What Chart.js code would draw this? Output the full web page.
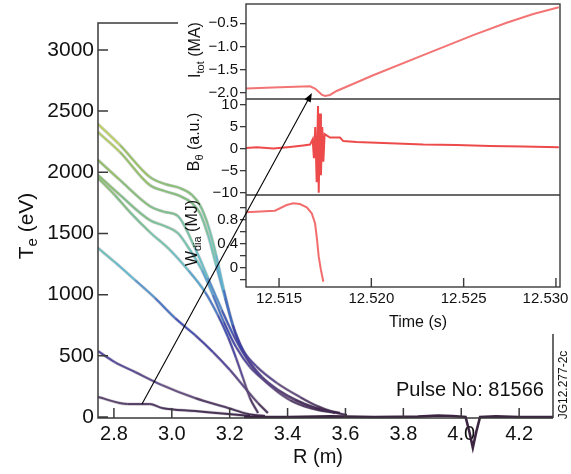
<!DOCTYPE html>
<html>
<head>
<meta charset="utf-8">
<script src="https://cdn.jsdelivr.net/npm/chart.js@4.4.1/dist/chart.umd.min.js"></script>
<style>
  html, body { margin: 0; padding: 0; background: #fff; }
  #wrap { position: relative; width: 571px; height: 474px; }
  #wrap canvas { position: absolute; left: 0; top: 0; }
</style>
</head>
<body>
<div id="wrap">
  <canvas id="main" width="571" height="474"></canvas>
  <canvas id="inset" width="571" height="474"></canvas>
</div>
<script>
// ---- main plot: Te profiles vs major radius ----
const rTicks = [2.8, 3.0, 3.2, 3.4, 3.6, 3.8, 4.0, 4.2];
const teTicks = [0, 500, 1000, 1500, 2000, 2500, 3000];

const r1 = [2.745, 2.821, 2.924, 2.976, 3.028, 3.070, 3.097, 3.125, 3.153, 3.180, 3.211, 3.246, 3.291, 3.363, 3.443, 3.502, 3.557, 3.605];
const te1 = [2394, 2222, 1961, 1904, 1871, 1814, 1732, 1569, 1324, 1038, 752, 547, 417, 278, 163, 90, 41, 16];
const r2 = [2.745, 2.821, 2.924, 2.976, 3.028, 3.070, 3.097, 3.125, 3.153, 3.184, 3.218, 3.260, 3.312, 3.367, 3.426, 3.495, 3.581];
const te2 = [2328, 2165, 1895, 1846, 1806, 1748, 1667, 1487, 1242, 972, 694, 482, 327, 221, 139, 74, 33];
const r3 = [2.745, 2.821, 2.924, 2.976, 3.021, 3.080, 3.125, 3.173, 3.211, 3.253, 3.298, 3.353, 3.408, 3.477, 3.564];
const te3 = [2100, 1936, 1724, 1675, 1642, 1381, 1136, 874, 678, 498, 351, 229, 139, 74, 33];
const r4 = [2.745, 2.821, 2.924, 2.976, 3.021, 3.063, 3.104, 3.142, 3.180, 3.222, 3.270, 3.332, 3.401, 3.460, 3.519];
const te4 = [1977, 1814, 1609, 1560, 1503, 1364, 1201, 997, 776, 572, 408, 278, 172, 106, 57];
const r5 = [2.745, 2.803, 2.855, 2.924, 2.994, 3.056, 3.115, 3.159, 3.194, 3.222, 3.246, 3.270, 3.298];
const te5 = [1953, 1814, 1675, 1511, 1364, 1201, 1021, 833, 654, 482, 319, 155, 33];
const r6 = [2.745, 2.803, 2.873, 2.942, 3.011, 3.080, 3.142, 3.201, 3.253, 3.298, 3.332];
const te6 = [1381, 1266, 1119, 972, 809, 670, 531, 384, 237, 114, 33];
const r7 = [2.745, 2.803, 2.873, 2.966, 3.080, 3.194, 3.263, 3.322];
const te7 = [539, 449, 368, 261, 155, 74, 25, 8];
const r8 = [2.745, 2.848, 2.924, 2.966, 3.080, 3.194, 3.270];
const te8 = [163, 106, 106, 74, 49, 25, 8];
// edge / SOL part, all profiles lying on top of each other
const rEdge = [3.25, 3.40, 3.55, 3.70, 3.85, 3.92, 3.97, 4.015, 4.028, 4.040, 4.052, 4.065, 4.12, 4.20, 4.317];
const teEdge = [0, 0, 5, 0, 3, 12, 8, 0, -120, -250, -120, 0, 5, 0, 0];

// ---- inset: time traces ----
const timeTicks = [12.515, 12.520, 12.525, 12.530];
const iTicks = [-2.0, -1.5, -1.0, -0.5];
const bTicks = [-10, -5, 0, 5, 10];
const wTicks = [-0.2, 0, 0.2, 0.4, 0.6, 0.8, 1.0];
const wLabelled = [0, 0.4, 0.8];

const tI = [12.51321, 12.51467, 12.51668, 12.51695, 12.51731, 12.51749, 12.51776, 12.51812, 12.52010, 12.52281, 12.52552, 12.52733, 12.52877, 12.53016];
const iTot = [-1.905, -1.883, -1.855, -1.905, -2.035, -2.065, -2.043, -1.957, -1.618, -1.186, -0.754, -0.488, -0.300, -0.155];

const tB = [12.51321, 12.51379, 12.51469, 12.51559, 12.51631, 12.51668, 12.51682, 12.51689, 12.51696, 12.51704, 12.51711, 12.51715, 12.51722, 12.51727, 12.51734, 12.51740, 12.51747, 12.51776, 12.51830, 12.51848, 12.51920, 12.52101, 12.52281, 12.52462, 12.52642, 12.52821, 12.53016];
const bTheta = [0.24, 0.4, 0.1, 0.47, 0.8, 1.0, 2.2, -2.1, 5.0, -7.6, 9.8, -10.0, 8.1, -6.0, 5.0, -2.9, 3.4, 2.6, 2.6, 1.8, 1.6, 1.3, 1.0, 0.9, 0.7, 0.57, 0.4];

const tW = [12.51321, 12.51478, 12.51541, 12.51577, 12.51613, 12.51650, 12.51677, 12.51695, 12.51704, 12.51715, 12.51727, 12.51740];
const wDia = [0.929, 0.956, 1.051, 1.080, 1.068, 1.013, 0.912, 0.745, 0.520, 0.184, -0.039, -0.235];

// arrow from the cold profile to the start of the current spike
const arrowFrom = [2.897, 106];
const arrowTo = [12.51678, -2.0];

const FONT = "'Liberation Sans', Arial, Helvetica, sans-serif";
Chart.defaults.font.family = FONT;
Chart.defaults.color = '#111';

const pts = (xs, ys) => xs.map((x, i) => ({ x: x, y: ys[i] }));
const minus = s => s.replace('-', '\u2212');

// colour of a profile follows its temperature
const cmap = [
  [0, [55, 30, 65]], [200, [95, 70, 120]], [450, [80, 65, 150]], [700, [55, 65, 170]],
  [950, [70, 125, 200]], [1200, [95, 185, 205]], [1400, [110, 196, 175]], [1750, [125, 188, 125]],
  [2100, [150, 192, 90]], [2350, [195, 212, 95]], [2500, [222, 224, 112]]
];
function teColor(v) {
  if (v <= cmap[0][0]) return 'rgba(' + cmap[0][1].join(',') + ',0.92)';
  for (let i = 1; i < cmap.length; i++) {
    if (v <= cmap[i][0]) {
      const f = (v - cmap[i - 1][0]) / (cmap[i][0] - cmap[i - 1][0]);
      const c = cmap[i - 1][1].map((a, k) => Math.round(a + (cmap[i][1][k] - a) * f));
      return 'rgba(' + c.join(',') + ',0.92)';
    }
  }
  return 'rgba(' + cmap[cmap.length - 1][1].join(',') + ',0.92)';
}

function drawLabel(ctx, parts, cx, cy, rotate) {
  ctx.save();
  ctx.translate(cx, cy);
  if (rotate) ctx.rotate(-Math.PI / 2);
  let w = 0;
  parts.forEach(p => { ctx.font = p.size + 'px ' + FONT; p.w = ctx.measureText(p.text).width; w += p.w; });
  let x = -w / 2;
  ctx.textAlign = 'left';
  ctx.textBaseline = 'middle';
  ctx.fillStyle = '#111';
  parts.forEach(p => { ctx.font = p.size + 'px ' + FONT; ctx.fillText(p.text, x, p.dy || 0); x += p.w; });
  ctx.restore();
}

// no automatic padding for overhanging tick labels
const noPad = s => { s.paddingTop = 0; s.paddingBottom = 0; s.paddingLeft = 0; s.paddingRight = 0; };

const profiles = [[r1, te1], [r2, te2], [r3, te3], [r4, te4], [r5, te5], [r6, te6], [r7, te7], [r8, te8]];

// coloured core of every profile, then a faint darker halo drawn underneath it
const coreSets = profiles.map(p => ({
  data: pts(p[0], p[1]),
  borderWidth: 2,
  pointRadius: 0,
  cubicInterpolationMode: 'monotone',
  borderColor: teColor(p[1][0]),
  segment: { borderColor: c => teColor((c.p0.parsed.y + c.p1.parsed.y) / 2) }
}));
const haloSets = profiles.map(p => ({
  data: pts(p[0], p[1]),
  borderWidth: 3.2,
  pointRadius: 0,
  cubicInterpolationMode: 'monotone',
  borderColor: 'rgba(45,40,60,0.22)'
}));

const mainDecor = {
  id: 'mainDecor',
  afterDraw(chart) {
    const { ctx, chartArea: a, scales: { x, y } } = chart;
    ctx.save();
    ctx.strokeStyle = '#3a3a3a';
    ctx.lineWidth = 1.5;
    ctx.beginPath();
    ctx.moveTo(178, a.top); ctx.lineTo(a.left, a.top);
    ctx.lineTo(a.left, a.bottom); ctx.lineTo(a.right, a.bottom);
    ctx.moveTo(a.right, 334); ctx.lineTo(a.right, a.bottom);
    rTicks.forEach(v => { const px = x.getPixelForValue(v); ctx.moveTo(px, a.bottom); ctx.lineTo(px, a.bottom - 10); });
    teTicks.forEach(v => { const py = y.getPixelForValue(v); ctx.moveTo(a.left, py); ctx.lineTo(a.left + 10, py); });
    ctx.stroke();
    ctx.restore();

    drawLabel(ctx, [{ text: 'R (m)', size: 20 }], 318, 457, false);
    drawLabel(ctx, [{ text: 'T', size: 21 }, { text: 'e', size: 15, dy: 6 }, { text: ' (eV)', size: 21 }], 27, 226, true);
    ctx.save();
    ctx.fillStyle = '#111';
    ctx.font = '20px ' + FONT;
    ctx.textAlign = 'left';
    ctx.textBaseline = 'middle';
    ctx.fillText('Pulse No: 81566', 396, 390);
    ctx.restore();
    drawLabel(ctx, [{ text: 'JG12.277-2c', size: 12 }], 564, 385, true);
  }
};

const mainChart = new Chart(document.getElementById('main'), {
  type: 'line',
  data: {
    datasets: coreSets.concat(haloSets).concat([{
      data: pts(rEdge, teEdge),
      borderWidth: 2.6,
      pointRadius: 0,
      borderColor: 'rgba(50,25,55,0.95)',
      clip: false
    }])
  },
  options: {
    responsive: false,
    animation: false,
    events: [],
    layout: { autoPadding: false, padding: { left: 0, top: 23, right: 18, bottom: 0 } },
    plugins: { legend: { display: false }, tooltip: { enabled: false } },
    scales: {
      x: {
        type: 'linear', min: 2.745, max: 4.317,
        afterBuildTicks: s => { s.ticks = rTicks.map(v => ({ value: v })); },
        afterFit: s => { s.height = 56; noPad(s); },
        grid: { display: false, drawTicks: false },
        border: { display: false },
        ticks: { font: { size: 20 }, padding: 4, maxRotation: 0, autoSkip: false, callback: v => v.toFixed(1) }
      },
      y: {
        type: 'linear', min: -8, max: 3220,
        afterBuildTicks: s => { s.ticks = teTicks.map(v => ({ value: v })); },
        afterFit: s => { s.width = 98; noPad(s); },
        grid: { display: false, drawTicks: false },
        border: { display: false },
        ticks: { font: { size: 21 }, padding: 4, autoSkip: false, callback: v => String(v) }
      }
    }
  },
  plugins: [mainDecor]
});

const insetDecor = {
  id: 'insetDecor',
  beforeDraw(chart) {
    const { ctx, chartArea: a } = chart;
    ctx.save();
    ctx.fillStyle = '#fff';
    ctx.fillRect(a.left, a.top, a.width, a.height);
    ctx.restore();
  },
  afterDraw(chart) {
    const { ctx, chartArea: a, scales } = chart;
    ctx.save();
    ctx.strokeStyle = '#3a3a3a';
    ctx.lineWidth = 1.4;
    ctx.strokeRect(a.left, a.top, a.width, a.height);
    ctx.beginPath();
    [scales.yI.bottom, scales.yB.bottom].forEach(py => { ctx.moveTo(a.left, py); ctx.lineTo(a.right, py); });
    timeTicks.forEach(v => { const px = scales.x.getPixelForValue(v); ctx.moveTo(px, a.bottom); ctx.lineTo(px, a.bottom - 9); });
    ctx.stroke();

    // arrow from main profile to current trace
    const m = mainChart.scales;
    const x0 = m.x.getPixelForValue(arrowFrom[0]), y0 = m.y.getPixelForValue(arrowFrom[1]);
    const x1 = scales.x.getPixelForValue(arrowTo[0]), y1 = scales.yI.getPixelForValue(arrowTo[1]);
    const ang = Math.atan2(y1 - y0, x1 - x0);
    ctx.strokeStyle = '#000';
    ctx.lineWidth = 1.1;
    ctx.beginPath();
    ctx.moveTo(x0, y0);
    ctx.lineTo(x1 - 7 * Math.cos(ang), y1 - 7 * Math.sin(ang));
    ctx.stroke();
    ctx.fillStyle = '#000';
    ctx.beginPath();
    ctx.moveTo(x1, y1);
    ctx.lineTo(x1 - 9 * Math.cos(ang) + 3.5 * Math.sin(ang), y1 - 9 * Math.sin(ang) - 3.5 * Math.cos(ang));
    ctx.lineTo(x1 - 9 * Math.cos(ang) - 3.5 * Math.sin(ang), y1 - 9 * Math.sin(ang) + 3.5 * Math.cos(ang));
    ctx.closePath();
    ctx.fill();
    ctx.restore();

    drawLabel(ctx, [{ text: 'I', size: 16 }, { text: 'tot', size: 11, dy: 5 }, { text: ' (MA)', size: 16 }], 196, 50, true);
    drawLabel(ctx, [{ text: 'B', size: 16 }, { text: '\u03b8', size: 11, dy: 5 }, { text: ' (a.u.)', size: 16 }], 195, 142, true);
    drawLabel(ctx, [{ text: 'W', size: 16 }, { text: 'dia', size: 11, dy: 5 }, { text: ' (MJ)', size: 16 }], 193, 233, true);
    drawLabel(ctx, [{ text: 'Time (s)', size: 16 }], 418, 323, false);
  }
};

const yInset = (weight, min, max, ticks, fmt) => ({
  type: 'linear', position: 'left', stack: 'inset', stackWeight: weight, min: min, max: max,
  afterBuildTicks: s => { s.ticks = ticks.map(v => ({ value: v })); },
  afterFit: s => { s.width = 68; noPad(s); },
  grid: { display: true, drawOnChartArea: false, drawTicks: true, tickLength: 6, color: '#3a3a3a', lineWidth: 1.3 },
  border: { display: false },
  ticks: { font: { size: 15 }, padding: 2, autoSkip: false, callback: fmt }
});

const redLine = (xs, ys, axis, color) => ({
  data: pts(xs, ys), yAxisID: axis, borderColor: color, borderWidth: 2,
  pointRadius: 0, tension: 0
});

const insetChart = new Chart(document.getElementById('inset'), {
  type: 'line',
  data: {
    datasets: [
      redLine(tI, iTot, 'yI', 'rgba(238,70,70,0.75)'),
      redLine(tB, bTheta, 'yB', 'rgba(232,30,30,0.8)'),
      redLine(tW, wDia, 'yW', 'rgba(238,60,60,0.75)')
    ]
  },
  options: {
    responsive: false,
    animation: false,
    events: [],
    layout: { autoPadding: false, padding: { left: 178, top: 4, right: 11, bottom: 0 } },
    plugins: { legend: { display: false }, tooltip: { enabled: false } },
    scales: {
      x: {
        type: 'linear', min: 12.51321, max: 12.53022,
        afterBuildTicks: s => { s.ticks = timeTicks.map(v => ({ value: v })); },
        afterFit: s => { s.height = 187; noPad(s); },
        grid: { display: false, drawTicks: false },
        border: { display: false },
        ticks: {
          font: { size: 15 }, padding: 3, maxRotation: 0, autoSkip: false,
          callback: (v, i) => v.toFixed(3) + (i === timeTicks.length - 1 ? '     ' : '')
        }
      },
      yW: yInset(92, -0.324, 1.219, wTicks, v => wLabelled.some(w => Math.abs(w - v) < 1e-6) ? (v === 0 ? '0' : v.toFixed(1)) : ''),
      yB: yInset(96, -10.5, 11.4, bTicks, v => minus(String(v))),
      yI: yInset(95, -2.13, -0.084, iTicks, v => minus(v.toFixed(1)))
    }
  },
  plugins: [insetDecor]
});
</script>
</body>
</html>
